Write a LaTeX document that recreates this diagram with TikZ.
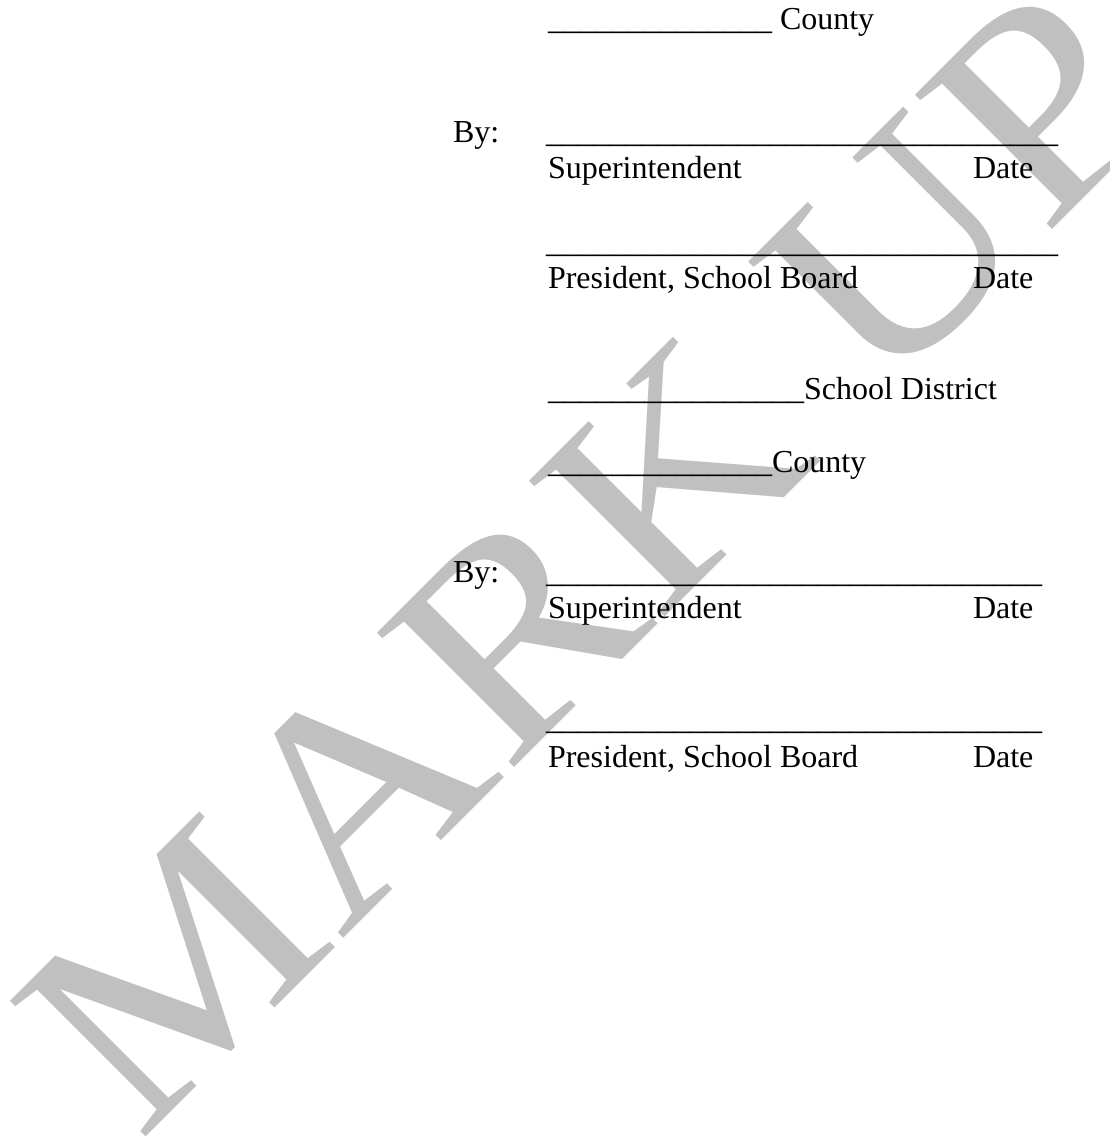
\documentclass[tikz,border=0pt]{standalone}
\usepackage{fontspec}
\setmainfont{Liberation Serif}
\usepackage{graphicx}
\definecolor{wm}{RGB}{192,192,192}
\tikzset{
  txt/.style={anchor=base west, inner sep=0pt, outer sep=0pt, font=\fontsize{32bp}{38bp}\selectfont},
  wmark/.style={anchor=base west, inner sep=0pt, outer sep=0pt, rotate=45, text=wm, font=\fontsize{293bp}{293bp}\selectfont}
}
\newcommand\ufourteen{\_\_\_\_\_\_\_\_\_\_\_\_\_\_}
\begin{document}
\begin{tikzpicture}[x=1bp,y=-1bp]
\useasboundingbox[fill=white] (0,0) rectangle (1110,1142);
% watermark
\node[wmark] (wmk) at (139,1143) {\scalebox{1.1}[1]{MARK UP}};
% first block
\node[txt] (cty1) at (548,29) {\ufourteen\ County};
\node[txt] (by1) at (453,142) {By:};
\node[txt] (l1) at (546,142) {\ufourteen\_\_\ufourteen\_\_};
\node[txt] (sup1) at (548,178) {Superintendent};
\node[txt] (d1) at (973,178) {Date};
\node[txt] (l2) at (546,252) {\ufourteen\_\_\ufourteen\_\_};
\node[txt] (pres1) at (548,288) {President, School Board};
\node[txt] (d2) at (973,288) {Date};
% second block
\node[txt] (sd) at (548,399) {\ufourteen\_\_School District};
\node[txt] (cty2) at (548,472) {\ufourteen County};
\node[txt] (by2) at (453,582) {By:};
\node[txt] (l3) at (546,582) {\ufourteen\_\_\ufourteen\_};
\node[txt] (sup2) at (548,618) {Superintendent};
\node[txt] (d3) at (973,618) {Date};
\node[txt] (l4) at (546,729) {\ufourteen\_\_\ufourteen\_};
\node[txt] (pres2) at (548,767) {President, School Board};
\node[txt] (d4) at (973,767) {Date};
\end{tikzpicture}
\end{document}
